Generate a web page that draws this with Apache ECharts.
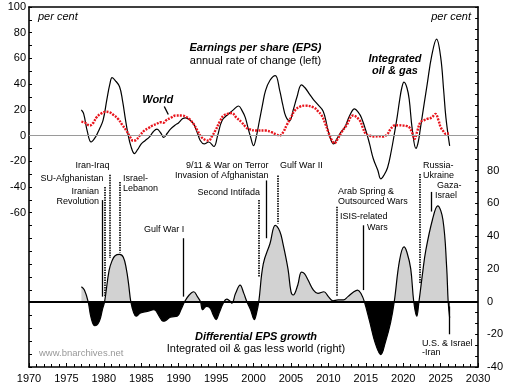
<!DOCTYPE html>
<html>
<head>
<meta charset="utf-8">
<script src="https://cdn.jsdelivr.net/npm/echarts@6/dist/echarts.min.js"></script>
<style>html,body{margin:0;padding:0;background:#fff}#c{width:506px;height:390px}</style>
</head>
<body>
<div id="c"></div>
<script>
// Integrated oil & gas EPS, annual rate of change (left axis) [year, %]
const oilGas = [[1977.0,20],[1977.3,17],[1977.8,3],[1978.3,-5],[1978.9,-1],[1979.4,5],[1979.9,12],[1980.4,28],[1980.8,40],[1981.1,45],[1981.5,43],[1982.1,38],[1982.5,27],[1982.9,12],[1983.2,2],[1983.6,-8],[1984.1,-14],[1984.5,-11],[1985.0,-6.5],[1985.5,-4],[1986.1,-1],[1986.6,3],[1987.1,5],[1987.6,2],[1988.0,-1.5],[1988.5,2],[1988.9,5],[1989.5,8],[1990.0,10],[1990.5,13],[1990.9,13.8],[1991.5,12],[1992.0,9],[1992.5,2],[1992.9,-4],[1993.4,-6.5],[1994.0,-5],[1994.7,-8.5],[1995.2,0],[1995.8,11.7],[1996.7,17],[1997.3,20],[1998.0,23],[1998.5,19],[1998.9,14],[1999.3,5],[1999.6,-1],[2000.0,-7.8],[2000.4,0],[2000.7,9],[2001.2,24],[2001.6,35],[2002.2,43],[2002.9,46.7],[2003.5,35],[2003.9,24],[2004.3,15],[2004.8,11.5],[2005.3,20],[2005.8,30],[2006.4,39.5],[2006.9,37],[2007.5,32],[2008.0,28],[2008.6,24],[2009.3,19],[2009.8,8],[2010.2,-1.3],[2010.7,-6.5],[2011.1,-3],[2011.6,2],[2012.2,6.5],[2012.8,15],[2013.5,20.7],[2014.0,18],[2014.4,14],[2015.0,4],[2015.5,-6.5],[2016.0,-18],[2016.6,-27],[2017.0,-33.7],[2017.4,-31],[2017.9,-25],[2018.4,-12],[2018.8,1],[2019.2,15],[2019.5,27],[2019.8,37],[2020.1,41.5],[2020.5,37],[2020.8,28],[2021.2,5],[2021.7,-10],[2022.0,-5],[2022.3,6],[2022.8,25],[2023.2,40],[2023.8,62],[2024.45,75],[2025.0,61],[2025.4,35],[2025.7,14],[2026.2,-8]];

// World EPS, annual rate of change (left axis) [year, %]
const world = [[1977.0,10.9],[1977.5,10],[1978.1,7.8],[1978.6,10],[1979.0,14],[1979.6,17],[1980.3,18.5],[1980.8,18],[1981.3,16],[1981.9,13],[1982.5,8],[1983.0,3.9],[1983.5,-1],[1983.9,-4],[1984.3,-3.4],[1984.8,0],[1985.4,3.9],[1986.0,6],[1986.5,7.8],[1987.0,9],[1987.6,10.4],[1988.0,10],[1988.3,11.7],[1989.0,14],[1989.6,15.6],[1990.5,15.6],[1991.0,14.5],[1991.4,13],[1992.0,9],[1992.5,3.9],[1993.0,-1],[1993.6,-3.5],[1994.0,-3.9],[1994.5,0],[1994.9,3.9],[1995.5,11],[1996.0,15.6],[1996.6,17],[1997.1,17.5],[1997.7,14],[1998.4,10.4],[1998.9,7],[1999.3,5.2],[2000.4,3.9],[2001.6,3.9],[2002.4,2.6],[2003.0,1],[2003.5,0],[2004.0,3],[2004.4,7.8],[2005.0,14],[2005.5,19.4],[2006.2,22.5],[2006.9,23.3],[2008.0,22],[2008.6,19],[2009.1,15.6],[2009.6,9],[2010.0,2.6],[2010.4,-3],[2010.8,-6],[2011.3,-2],[2011.8,3],[2012.4,7.8],[2013.3,15.6],[2014.2,11.7],[2014.6,6],[2015.0,1.3],[2015.5,0],[2016.2,-0.8],[2016.8,-0.5],[2017.3,-0.8],[2017.9,1.3],[2018.3,5],[2018.8,7.8],[2019.4,8],[2019.9,7.8],[2020.4,7.5],[2020.8,6.5],[2021.2,2],[2021.5,-2.6],[2021.9,4],[2022.3,10.4],[2022.8,12],[2023.2,13],[2023.8,14],[2024.3,16.9],[2024.7,12],[2025.0,6.5],[2025.4,3],[2025.7,1.3],[2026.1,1.8]];

// Differential EPS growth: integrated oil & gas less world (right axis) [year, %]
const differential = [[1977.0,9],[1977.4,7],[1977.9,0],[1978.3,-10],[1978.8,-14.8],[1979.4,-12],[1979.8,-5],[1980.1,0],[1980.7,19],[1981.1,25],[1981.5,28],[1982.1,28.8],[1982.6,27],[1983.0,20],[1983.3,11],[1983.6,0],[1984.0,-7],[1984.3,-9],[1984.9,-7],[1985.8,-6],[1986.7,-5],[1987.4,-9],[1987.9,-12],[1988.3,-11.5],[1988.9,-9.5],[1989.8,-9],[1990.3,-5],[1990.8,0],[1991.4,4],[1992.0,6],[1992.5,3],[1992.9,0],[1993.2,-5],[1993.7,-3],[1994.2,-4],[1994.6,-8],[1995.0,-11],[1995.4,-7],[1996.0,-0.5],[1996.4,1.5],[1996.8,0.5],[1997.1,-1],[1997.6,5],[1998.2,10],[1998.7,5],[1999.1,0],[1999.6,-5],[2000.1,-11],[2000.4,-7],[2000.7,0],[2001.3,23],[2002.2,35.5],[2002.9,46.6],[2003.5,43],[2003.9,36],[2004.6,20],[2005.0,6],[2005.3,4],[2005.9,10],[2006.4,18],[2006.8,17],[2007.3,13],[2008.0,7],[2008.6,5],[2009.4,6],[2010.0,3],[2010.6,0.5],[2011.3,1],[2012.0,1],[2012.6,3],[2013.4,6],[2013.9,7],[2014.4,4.5],[2014.8,0],[2015.5,-12],[2016.3,-26],[2017.0,-32.4],[2017.6,-25],[2018.3,-13],[2018.8,0],[2019.5,25],[2020.1,33.4],[2020.5,30],[2021.0,20],[2021.4,0],[2021.8,-9],[2022.1,0],[2022.6,18],[2023.0,31],[2023.9,50],[2024.6,58.5],[2025.3,50],[2025.8,21],[2026.0,0],[2026.2,-10]];

// Event markers (right-axis units)
const eventYears  = [1979.8, 1980.1, 1980.75, 1982.1, 1990.6, 2000.75, 2001.7, 2003.2, 2011.05, 2014.6, 2022.2, 2023.8, 2026.15];
const eventTop    = [62, 70, 77.5, 73, 38.7, 62, 74, 77, 58, 46.6, 78, 67, -3];
const eventBottom = [3, 3, 26.6, 30, 3, 15, 38.7, 47.7, 3, 7, 11, 55, -20];
const eventDotted = [false, true, true, true, false, true, false, true, true, false, true, false, false];

const xTicks = [1970, 1975, 1980, 1985, 1990, 1995, 2000, 2005, 2010, 2015, 2020, 2025, 2030];

const FONT = 'Liberation Sans, Arial, sans-serif';
const chart = echarts.init(document.getElementById('c'), null, {renderer: 'canvas'});

const eventLines = eventYears.map((yr, i) => [
  {coord: [yr, eventTop[i]], lineStyle: {color: '#000', width: eventDotted[i] ? 1.6 : 1.3, type: eventDotted[i] ? [1.5, 1] : 'solid'}},
  {coord: [yr, eventBottom[i]]}
]);

function txt(x, y, text, align, opt) {
  return {
    type: 'text', x: x, y: y, silent: true, z: 100,
    style: Object.assign({text: text, fill: '#000', font: '9px ' + FONT, textAlign: align || 'left', textVerticalAlign: 'middle'}, opt || {})
  };
}
const BI = 'italic bold 11px ' + FONT;
const N11 = '11px ' + FONT;

const graphics = [
  txt(38, 17, 'per cent', 'left', {font: 'italic 11px ' + FONT}),
  txt(471, 17, 'per cent', 'right', {font: 'italic 11px ' + FONT}),
  txt(255.5, 48, 'Earnings per share (EPS)', 'center', {font: BI}),
  txt(255.5, 60.5, 'annual rate of change (left)', 'center', {font: N11}),
  txt(395, 59, 'Integrated', 'center', {font: BI}),
  txt(395, 71, 'oil & gas', 'center', {font: BI}),
  txt(157.7, 99.5, 'World', 'center', {font: BI}),
  {type: 'line', silent: true, z: 100, shape: {x1: 164.3, y1: 106.5, x2: 168.3, y2: 114.5}, style: {stroke: '#000', lineWidth: 1.3}},
  txt(256, 336.5, 'Differential EPS growth', 'center', {font: BI}),
  txt(256, 349, 'Integrated oil & gas less world (right)', 'center', {font: N11}),
  txt(39, 353.5, 'www.bnarchives.net', 'left', {fill: '#999', font: '9.5px ' + FONT}),
  txt(92.5, 166, 'Iran-Iraq', 'center'),
  txt(103.5, 179, 'SU-Afghanistan', 'right'),
  txt(99, 191.5, 'Iranian', 'right'),
  txt(99, 201.5, 'Revolution', 'right'),
  txt(123, 179, 'Israel-', 'left'),
  txt(123, 189, 'Lebanon', 'left'),
  txt(144, 230, 'Gulf War I', 'left'),
  txt(268.5, 166, '9/11 & War on Terror', 'right'),
  txt(268.5, 176, 'Invasion of Afghanistan', 'right'),
  txt(260, 192.5, 'Second Intifada', 'right'),
  txt(280, 166, 'Gulf War II', 'left'),
  txt(338, 192, 'Arab Spring &', 'left'),
  txt(338, 202, 'Outsourced Wars', 'left'),
  txt(340, 217, 'ISIS-related', 'left'),
  txt(367, 228, 'Wars', 'left'),
  txt(423, 166, 'Russia-', 'left'),
  txt(423, 176, 'Ukraine', 'left'),
  txt(437, 186, 'Gaza-', 'left'),
  txt(435, 195.5, 'Israel', 'left'),
  txt(422, 343.5, 'U.S. & Israel', 'left'),
  txt(422, 352.5, '-Iran', 'left')
];

const option = {
  animation: false,
  backgroundColor: '#fff',
  textStyle: {fontFamily: FONT},
  grid: {left: 29, right: 25, top: 7, bottom: 23, containLabel: false},
  visualMap: {
    show: false, type: 'piecewise', seriesIndex: 0, dimension: 1,
    pieces: [{gte: -1000, lt: 0, color: '#000000'}, {gte: 0, lte: 1000, color: '#d2d2d2'}]
  },
  xAxis: [{
    type: 'value', min: xTicks[0], max: xTicks[xTicks.length - 1], interval: 5,
    axisLine: {show: true, onZero: false, lineStyle: {color: '#000', width: 1.6}},
    axisTick: {show: true, inside: true, length: 4, lineStyle: {color: '#000'}},
    minorTick: {show: true, splitNumber: 5, length: 3, lineStyle: {color: '#000'}},
    axisLabel: {color: '#000', fontSize: 11, margin: 6, fontFamily: FONT, formatter: v => String(v)},
    splitLine: {show: false}
  }, {
    type: 'value', position: 'top', min: xTicks[0], max: xTicks[xTicks.length - 1],
    axisLine: {show: true, onZero: false, lineStyle: {color: '#000', width: 1.6}},
    axisTick: {show: false}, axisLabel: {show: false}, splitLine: {show: false}
  }],
  yAxis: [{
    type: 'value', position: 'left', min: -180, max: 100, interval: 20,
    axisLine: {show: true, onZero: false, lineStyle: {color: '#000', width: 1.6}},
    axisTick: {show: true, inside: true, length: 3, lineStyle: {color: '#000'}},
    minorTick: {show: true, splitNumber: 2, length: 3, lineStyle: {color: '#000'}},
    axisLabel: {color: '#000', fontSize: 11, margin: 3, fontFamily: FONT,
      formatter: v => (v >= -60 ? String(v) : '')},
    splitLine: {show: false}
  }, {
    type: 'value', position: 'right', min: -40, max: 180, interval: 20,
    axisLine: {show: true, onZero: false, lineStyle: {color: '#000', width: 1.6}},
    axisTick: {show: true, inside: true, length: 3, lineStyle: {color: '#000'}},
    minorTick: {show: true, splitNumber: 3, length: 3, lineStyle: {color: '#000'}},
    axisLabel: {color: '#000', fontSize: 11, margin: 9, fontFamily: FONT,
      formatter: v => (v <= 80 ? String(v) : '')},
    splitLine: {show: false}
  }],
  series: [{
    name: 'Differential', type: 'line', xAxisIndex: 0, yAxisIndex: 1,
    data: differential, smooth: 0.4, showSymbol: false, silent: true,
    lineStyle: {color: '#000', width: 1.2},
    areaStyle: {opacity: 1},
    markLine: {
      silent: true, symbol: ['none', 'none'], label: {show: false},
      lineStyle: {color: '#000', width: 2, type: 'solid'},
      data: [{yAxis: 0}].concat(eventLines)
    },
    z: 2
  }, {
    name: 'Integrated oil & gas', type: 'line', xAxisIndex: 0, yAxisIndex: 0,
    data: oilGas, smooth: 0.4, showSymbol: false, silent: true,
    lineStyle: {color: '#000', width: 1.2},
    markLine: {
      silent: true, symbol: ['none', 'none'], label: {show: false},
      lineStyle: {color: '#9a9a9a', width: 1.2, type: 'solid'},
      data: [{yAxis: 0}]
    },
    z: 3
  }, {
    name: 'World', type: 'line', xAxisIndex: 0, yAxisIndex: 0,
    data: world, smooth: 0.4, showSymbol: false, silent: true,
    lineStyle: {color: '#e8141c', width: 2.4, type: [2, 1.2]},
    z: 4
  }],
  graphic: graphics
};
chart.setOption(option);
</script>
</body>
</html>
